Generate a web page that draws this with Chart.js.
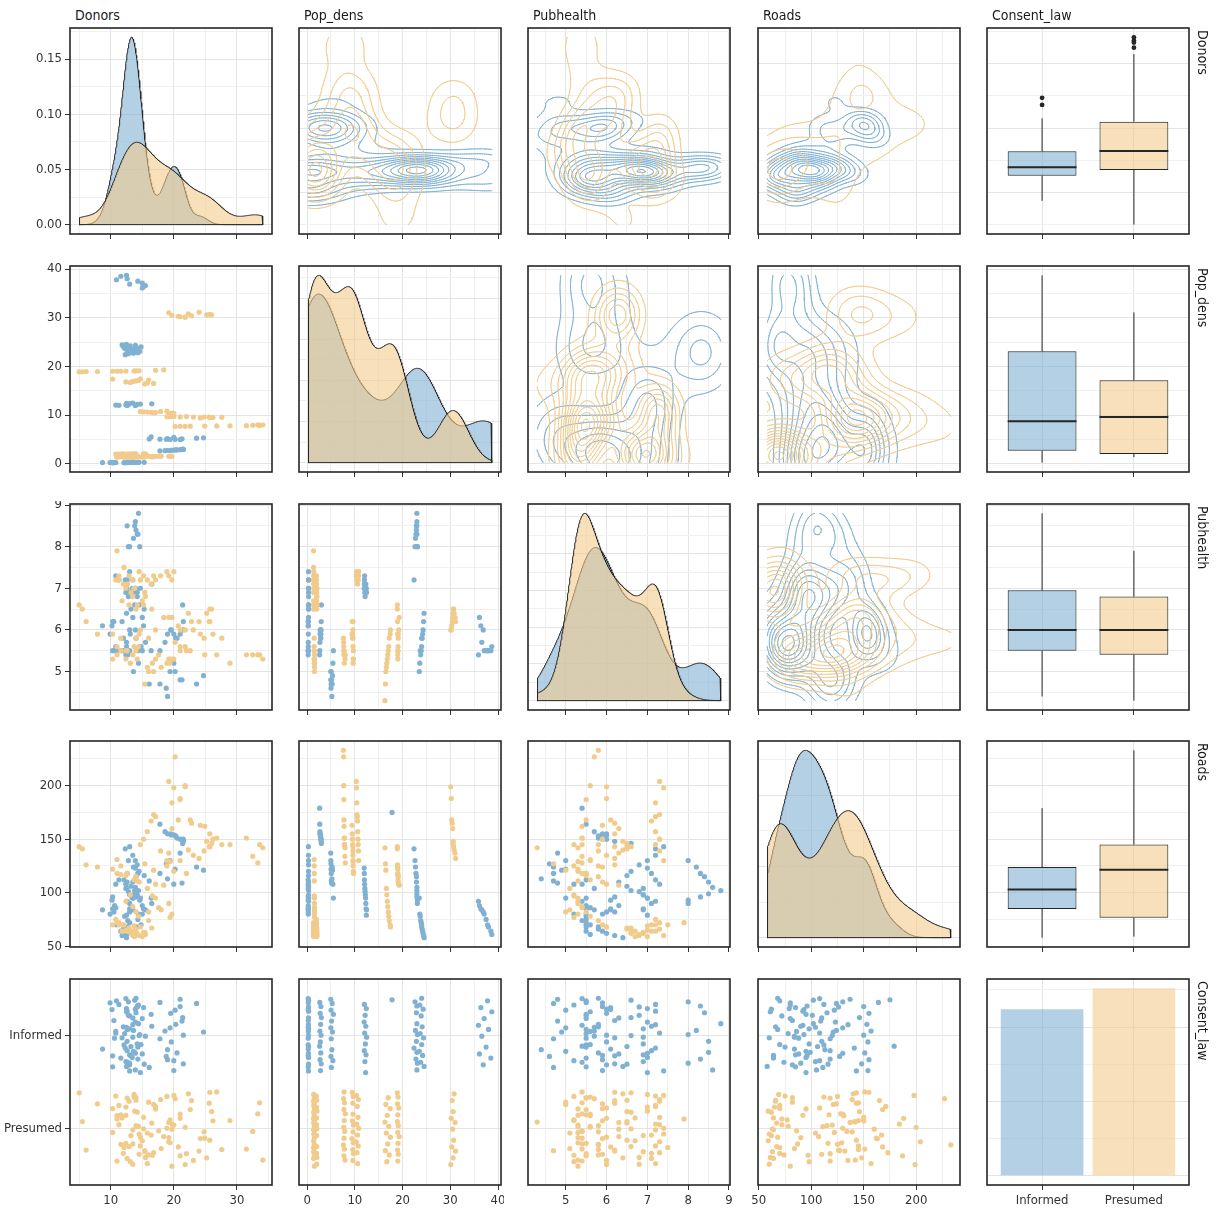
<!DOCTYPE html>
<html>
<head>
<meta charset="utf-8">
<script src="https://cdn.jsdelivr.net/npm/chart.js@4.4.1/dist/chart.umd.min.js"></script>
<style>
  body { margin: 0; background: #fff; width: 1226px; height: 1215px; position: relative; overflow: hidden;
         font-family: 'Liberation Sans Narrow', 'DejaVu Sans Condensed', sans-serif; }
  canvas { position: absolute; }
  .strip-top { position: absolute; top: 5px; font-size: 14px; line-height: 20px; color: #1a1a1a; white-space: nowrap; }
  .strip-right { position: absolute; writing-mode: vertical-rl; font-size: 14px; line-height: 20px; color: #1a1a1a; white-space: nowrap; }
</style>
</head>
<body>
<script>
// one row per year: [donors, pop_dens, pubhealth, roads]; NA = year with no record
const NA = [null, null, null, null];

// informed consent countries
const australia = [
  [12.1, 0.22, 5.5, 112], [12.4, 0.22, 5.4, 108], [12.5, 0.23, 5.7, 104], [10.3, 0.23, 6.2, 96],
  [10.2, 0.23, 6.1, 93], [10.6, 0.24, 5.5, 88], [10.3, 0.24, 5.5, 85], [10.5, 0.24, 6.2, 82],
  [8.7, 0.24, 6.1, 84], [9.9, 0.25, 5.9, 80], [10.8, 0.25, 5.6, 86], NA, NA, NA
];
const canada = [
  [13.0, 0.28, 7.4, 143], [13.5, 0.28, 7.2, 135], [13.9, 0.28, 7.0, 130], [14.2, 0.29, 6.8, 126],
  [14.5, 0.29, 6.6, 120], [15.3, 0.29, 6.5, 116], [13.5, 0.29, 6.3, 110], [13.2, 0.30, 6.5, 106],
  [13.8, 0.30, 6.6, 102], [13.0, 0.30, 6.9, 98], [13.4, 0.31, 7.0, 95], [12.6, 0.31, 7.2, 92], NA, NA
];
const denmark = [
  [13.9, 11.95, 7.0, 123], [12.6, 11.98, 7.1, 118], [11.3, 12.00, 7.2, 112], [10.8, 12.05, 7.3, 108],
  [12.4, 12.10, 6.9, 104], [12.8, 12.15, 6.8, 101], [14.2, 12.20, 6.9, 98], [14.7, 12.25, 7.0, 95],
  [16.5, 12.30, 7.1, 90], [13.0, 12.35, 6.9, 85], [12.5, 12.40, 7.0, 79], [13.5, 12.45, 6.9, 84], NA, NA
];
const germany = [
  [12.3, 22.4, 7.2, 141], [12.8, 22.6, 8.0, 130], [13.6, 22.7, 8.2, 124], [14.3, 22.8, 8.3, 118],
  [14.0, 22.9, 8.4, 115], [12.6, 22.9, 8.5, 110], [13.9, 23.0, 8.6, 105], [14.4, 23.0, 8.8, 102],
  [13.8, 23.0, 8.5, 99], [14.2, 23.0, 8.3, 96], [14.6, 23.1, 8.0, 93], [13.0, 23.1, 8.0, 90], NA, NA
];
const ireland = [
  [21.0, 4.95, 4.8, 137], [19.4, 4.97, 5.0, 130], [18.8, 5.00, 4.6, 127], [20.2, 5.02, 5.0, 122],
  [17.8, 5.05, 4.7, 118], [16.1, 5.08, 4.7, 111], [21.3, 5.12, 4.8, 109], [19.0, 5.18, 4.4, 113],
  [23.6, 5.25, 4.7, 124], [24.7, 5.32, 4.9, 121], [20.0, 5.40, 5.2, 108], [16.4, 5.50, 5.5, 95], NA, NA
];
const netherlands = [
  [null, 35.9, 5.4, 92], [15.0, 36.1, 6.3, 88], [15.2, 36.4, 6.1, 85], [15.5, 36.6, 5.7, 84],
  [13.0, 36.9, 6.0, 82], [15.0, 37.1, 5.5, 80], [14.3, 37.5, 5.5, 75], [10.9, 37.8, 5.5, 70],
  [12.6, 38.0, 5.5, 68], [11.6, 38.5, 5.5, 64], [12.5, 38.7, 5.6, 61], NA, NA, NA
];
const uk = [
  [13.6, 23.5, 5.0, 95], [14.4, 23.6, 5.2, 80], [12.2, 23.7, 5.5, 78], [12.7, 23.8, 5.4, 74],
  [13.0, 23.9, 5.5, 72], [14.8, 24.0, 5.6, 70], [14.0, 24.0, 5.8, 68], [12.0, 24.1, 5.8, 66],
  [13.1, 24.2, 5.9, 64], [13.9, 24.3, 6.0, 62], [11.8, 24.4, 6.2, 60], [12.5, 24.5, 6.4, 58], NA, NA
];
const usa = [
  [17.8, 2.65, 5.5, 164], [18.6, 2.68, 5.7, 157], [19.0, 2.71, 5.9, 155], [19.5, 2.74, 6.0, 155],
  [19.6, 2.77, 6.0, 154], [20.0, 2.80, 5.9, 154], [20.3, 2.83, 5.8, 153], [20.5, 2.86, 5.8, 151],
  [21.0, 2.89, 5.9, 150], [21.5, 2.92, 6.0, 150], [21.5, 2.95, 6.2, 148], [21.4, 2.98, 6.6, 146],
  [null, 2.62, 5.4, 179], [null, 17.8, null, 175]
];

// presumed consent countries
const austria = [
  [24.2, 9.40, 5.9, 163], [25.7, 9.45, 6.2, 155], [26.2, 9.50, 5.9, 150], [27.6, 9.55, 5.8, 145],
  [25.6, 9.60, 6.2, 143], [24.8, 9.60, 5.8, 139], [23.1, 9.60, 6.0, 135], [21.0, 9.62, 5.6, 130],
  [19.4, 9.65, 5.3, 129], [18.9, 9.65, 5.2, 125], [20.0, 9.70, 5.3, 120], [22.0, 9.70, 5.5, 118], NA, NA
];
const belgium = [
  [21.8, 30.1, 6.0, 199], [21.0, 30.2, 6.0, 188], [20.7, 30.3, 6.1, 168], [22.8, 30.4, 6.2, 165],
  [19.7, 30.5, 6.3, 160], [25.2, 30.6, 6.4, 148], [26.0, 30.6, 6.5, 146], [25.7, 30.7, 6.5, 143],
  [22.3, 30.8, 6.4, 140], [19.2, 31.0, 6.3, 137], [24.0, 31.1, 6.2, 132], NA, NA, NA
];
const finland = [
  [11.0, 1.48, 5.6, 131], [11.6, 1.49, 5.8, 125], [12.6, 1.50, 5.5, 118], [14.2, 1.50, 5.3, 111],
  [16.6, 1.51, 5.2, 97], [17.1, 1.52, 5.3, 95], [19.2, 1.52, 5.3, 90], [19.7, 1.53, 5.3, 80],
  [19.4, 1.54, 5.2, 77], [18.0, 1.54, 5.1, 84], [16.0, 1.55, 5.0, 82], [17.6, 1.56, 5.4, 86], NA, NA
];
const france = [
  [19.2, 10.30, 7.3, 204], [20.0, 10.35, 7.4, 198], [19.7, 10.40, 7.2, 184], [16.8, 10.45, 7.3, 173],
  [17.1, 10.50, 7.2, 171], [16.4, 10.55, 7.1, 167], [15.8, 10.60, 7.2, 157], [15.2, 10.65, 7.3, 150],
  [14.7, 10.70, 7.2, 145], [17.9, 10.75, 7.3, 139], [18.9, 10.80, 7.4, 130], NA, NA, NA
];
const italy = [
  [5.0, 18.90, 6.6, 143], [5.5, 18.90, 6.5, 141], [6.1, 18.95, 6.2, 126], [7.9, 18.95, 5.9, 124],
  [10.3, 19.00, 5.3, 122], [11.0, 19.00, 5.4, 118], [11.6, 19.00, 5.5, 117], [12.4, 19.05, 5.5, 116],
  [13.7, 19.05, 5.6, 112], [14.0, 19.10, 5.8, 115], [14.5, 19.10, 5.9, 110], [17.1, 19.20, 6.0, 108],
  [18.4, 19.30, 6.3, 107], NA
];
const norway = [
  [11.0, 1.34, 7.9, 72], [12.1, 1.34, 7.5, 70], [12.9, 1.35, 7.3, 66], [13.5, 1.35, 7.2, 64],
  [12.6, 1.36, 7.1, 64], [14.2, 1.36, 6.6, 62], [15.0, 1.37, 6.7, 59], [13.7, 1.37, 7.0, 69],
  [16.5, 1.38, 6.5, 67], [15.4, 1.38, 6.9, 63], [11.3, 1.39, 7.2, 70], [14.5, 1.40, 7.4, 60], NA, NA
];
const spain = [
  [null, 7.60, 5.8, 233], [20.2, 7.65, 5.7, 227], [21.8, 7.68, 5.6, 200], [21.0, 7.70, 5.5, 187],
  [22.6, 7.72, 5.5, 168], [24.9, 7.74, 5.4, 162], [26.8, 7.76, 5.4, 151], [28.9, 7.78, 5.2, 145],
  [31.5, 7.82, 5.4, 151], [33.6, 7.86, 5.4, 145], [32.5, 7.90, 5.4, 134], [34.1, 7.95, 5.3, 142],
  [33.3, 8.00, 5.4, 128], NA
];
const sweden = [
  [10.8, 1.95, 7.2, 75], [11.3, 1.96, 7.3, 72], [12.0, 1.97, 7.1, 70], [12.4, 1.98, 7.0, 65],
  [13.2, 1.99, 6.9, 62], [13.5, 2.00, 6.8, 60], [11.8, 2.00, 6.7, 64], [12.9, 2.01, 6.6, 67],
  [14.0, 2.02, 6.5, 66], [15.2, 2.03, 6.6, 63], [15.5, 2.04, 6.8, 61], [13.8, 2.05, 7.0, 59], NA, NA
];
const switzerland = [
  [null, 16.3, 4.3, 142], [15.4, 16.4, 4.7, 127], [16.8, 16.5, 5.0, 121], [15.8, 16.6, 5.1, 104],
  [13.1, 16.7, 5.2, 98], [12.4, 16.8, 5.3, 92], [13.5, 16.9, 5.4, 87], [14.0, 17.0, 5.5, 82],
  [14.4, 17.1, 5.6, 78], [16.0, 17.2, 5.8, 74], [10.3, 17.4, 5.9, 70], [14.7, 17.45, 6.0, 68], NA, NA
];

const informed = [australia, canada, denmark, germany, ireland, netherlands, uk, usa];
const presumed = [austria, belgium, finland, france, italy, norway, spain, sweden, switzerland];

const varNames = ['Donors', 'Pop_dens', 'Pubhealth', 'Roads', 'Consent_law'];
const consentLevels = ['Informed', 'Presumed'];
const donorBreaks = [10, 20, 30];
const popBreaks = [0, 10, 20, 30, 40];
const pubBreaks = [5, 6, 7, 8, 9];
const roadBreaks = [50, 100, 150, 200];
const donorDensityBreaks = [0, 0.05, 0.10, 0.15];
const countBreaks = [0, 50, 100];

// ---- styling ----
const FONT = "'Liberation Sans Narrow', 'DejaVu Sans Condensed', sans-serif";
const BLUE = 'rgb(128,177,211)';
const YELLOW = 'rgb(241,203,140)';
const BLUE_FILL = 'rgba(128,177,211,0.6)';
const YELLOW_FILL = 'rgba(241,203,140,0.6)';
const INK = '#262626';
const GRID_MAJOR = '#e4e4e4';
const GRID_MINOR = '#f0f0f0';

const COL_X = [70, 299, 528, 758, 987];
const ROW_Y = [28, 266, 504, 741, 979];
const PW = 202, PH = 206;
const PAD_L = 70, PAD_T = 3, PAD_R = 3, PAD_B = 32;

Chart.defaults.font.family = FONT;
Chart.defaults.color = '#333';

const groups = [
  { rows: informed.flat(), color: BLUE, fill: BLUE_FILL },
  { rows: presumed.flat(), color: YELLOW, fill: YELLOW_FILL }
];
const breaks = [donorBreaks, popBreaks, pubBreaks, roadBreaks];
const allRows = groups.flatMap(g => g.rows);
const dims = [0, 1, 2, 3].map(v => {
  const a = allRows.map(r => r[v]).filter(x => x != null);
  return [Math.min(...a), Math.max(...a)];
});
const expand = ([a, b]) => [a - 0.05 * (b - a), b + 0.05 * (b - a)];
const lims = dims.map(expand);

// ---- stats helpers ----
function quantile7(s, p) {
  const h = (s.length - 1) * p, lo = Math.floor(h), hi = Math.min(lo + 1, s.length - 1);
  return s[lo] + (h - lo) * (s[hi] - s[lo]);
}
function spread(vals) {
  const s = [...vals].sort((a, b) => a - b), n = s.length;
  const mean = s.reduce((a, b) => a + b, 0) / n;
  const sd = Math.sqrt(s.reduce((a, b) => a + (b - mean) ** 2, 0) / (n - 1));
  return { n, sd, iqr: quantile7(s, 0.75) - quantile7(s, 0.25), s };
}
function bwNrd0(vals) {
  const { n, sd, iqr } = spread(vals);
  let lo = Math.min(sd, iqr / 1.34);
  if (!lo) lo = sd || 1;
  return 0.9 * lo * Math.pow(n, -0.2);
}
function bwNrd(vals) {
  const { n, sd, iqr } = spread(vals);
  return 4 * 1.06 * Math.min(sd, iqr / 1.34) * Math.pow(n, -0.2);
}
const dnorm = u => Math.exp(-0.5 * u * u) / Math.sqrt(2 * Math.PI);
const seq = (lo, hi, n) => Array.from({ length: n }, (_, i) => lo + (hi - lo) * i / (n - 1));

function pretty(lo, hi, n) {
  const cell = (hi - lo) / n;
  const U = Math.pow(10, Math.floor(Math.log10(cell)));
  let unit = U;
  if (2 * U - cell < 1.5 * (cell - unit)) {
    unit = 2 * U;
    if (5 * U - cell < 2.75 * (cell - unit)) {
      unit = 5 * U;
      if (10 * U - cell < 1.5 * (cell - unit)) unit = 10 * U;
    }
  }
  const out = [];
  for (let k = Math.floor(lo / unit); k <= Math.ceil(hi / unit); k++) out.push(+(k * unit).toFixed(12));
  return out;
}

function colValues(g, v) { return g.rows.map(r => r[v]).filter(x => x != null); }
function pairs(g, vx, vy) {
  return g.rows.filter(r => r[vx] != null && r[vy] != null).map(r => ({ x: r[vx], y: r[vy] }));
}

function kde2d(pts, xr, yr, n) {
  const xs = pts.map(p => p.x), ys = pts.map(p => p.y), m = pts.length;
  const hx = bwNrd(xs) / 4, hy = bwNrd(ys) / 4;
  const gx = seq(xr[0], xr[1], n), gy = seq(yr[0], yr[1], n);
  const ax = gx.map(g => xs.map(x => dnorm((g - x) / hx)));
  const ay = gy.map(g => ys.map(y => dnorm((g - y) / hy)));
  const z = gx.map((_, i) => gy.map((_, j) => {
    let s = 0;
    for (let k = 0; k < m; k++) s += ax[i][k] * ay[j][k];
    return s / (m * hx * hy);
  }));
  return { gx, gy, z };
}

const GAP = { x: NaN, y: NaN };
const CASES = { 1: ['LB'], 2: ['BR'], 3: ['LR'], 4: ['RT'], 5: ['LB', 'RT'], 6: ['BT'], 7: ['LT'],
  8: ['TL'], 9: ['BT'], 10: ['BR', 'TL'], 11: ['RT'], 12: ['RL'], 13: ['BR'], 14: ['BL'] };
function isolines(k, level, out) {
  const { gx, gy, z } = k;
  for (let i = 0; i < gx.length - 1; i++) for (let j = 0; j < gy.length - 1; j++) {
    const a = z[i][j], b = z[i + 1][j], c = z[i + 1][j + 1], d = z[i][j + 1];
    const idx = (a >= level ? 1 : 0) | (b >= level ? 2 : 0) | (c >= level ? 4 : 0) | (d >= level ? 8 : 0);
    if (idx === 0 || idx === 15) continue;
    const x0 = gx[i], x1 = gx[i + 1], y0 = gy[j], y1 = gy[j + 1];
    const at = (px, py, pz, qx, qy, qz) => {
      const t = (level - pz) / (qz - pz);
      return { x: px + t * (qx - px), y: py + t * (qy - py) };
    };
    const e = {
      B: () => at(x0, y0, a, x1, y0, b),
      R: () => at(x1, y0, b, x1, y1, c),
      T: () => at(x0, y1, d, x1, y1, c),
      L: () => at(x0, y0, a, x0, y1, d)
    };
    for (const pr of CASES[idx]) out.push(e[pr[0]](), e[pr[1]](), GAP);
  }
}

function boxStats(vals) {
  const s = [...vals].sort((a, b) => a - b);
  const q1 = quantile7(s, 0.25), med = quantile7(s, 0.5), q3 = quantile7(s, 0.75), iqr = q3 - q1;
  const inside = s.filter(v => v >= q1 - 1.5 * iqr && v <= q3 + 1.5 * iqr);
  return { q1, med, q3, lo: inside[0], hi: inside[inside.length - 1],
    out: s.filter(v => v < q1 - 1.5 * iqr || v > q3 + 1.5 * iqr) };
}

// ---- axes ----
function buildTicks(lim, majors) {
  const inRange = v => v >= lim[0] - 1e-9 && v <= lim[1] + 1e-9;
  const out = majors.filter(inRange).map(v => ({ value: v, major: true }));
  if (majors.length > 1) {
    const step = majors[1] - majors[0];
    for (let k = -1; k < majors.length; k++) {
      const v = +(majors[0] + step * (k + 0.5)).toFixed(10);
      if (inRange(v)) out.push({ value: v, major: false });
    }
  }
  return out.sort((a, b) => a.value - b.value);
}

function axisOpts(axis, lim, ticks, labelled, ticksOn, fmt) {
  return {
    type: 'linear', position: axis === 'x' ? 'bottom' : 'left',
    min: lim[0], max: lim[1], bounds: 'data', offset: false, grace: 0,
    afterBuildTicks: s => { s.ticks = ticks.map(t => ({ value: t.value, major: t.major })); },
    afterFit: s => {
      if (axis === 'x') { s.height = PAD_B; s.paddingLeft = 0; s.paddingRight = 0; }
      else { s.width = PAD_L; s.paddingTop = 0; s.paddingBottom = 0; }
    },
    border: { display: false },
    grid: {
      offset: false, drawTicks: true, tickLength: 5, lineWidth: 1, tickWidth: 1,
      color: ctx => (ctx.tick && ctx.tick.major) ? GRID_MAJOR : GRID_MINOR,
      tickColor: ctx => (ticksOn && ctx.tick && ctx.tick.major) ? '#333' : 'rgba(0,0,0,0)'
    },
    ticks: {
      autoSkip: false, maxRotation: 0, minRotation: 0, padding: 3, color: '#333', font: { size: 13 },
      callback: (val, i) => (labelled && ticks[i] && ticks[i].major) ? fmt(ticks[i].value) : ''
    }
  };
}
const numericAxis = (axis, v, labelled, ticksOn) =>
  axisOpts(axis, lims[v], buildTicks(lims[v], breaks[v]), labelled, ticksOn, x => String(x));
const consentAxis = (axis, labelled, ticksOn) =>
  axisOpts(axis, [0.4, 2.6], [{ value: 1, major: true }, { value: 2, major: true }], labelled, ticksOn,
    x => axis === 'x' ? consentLevels[x - 1] : consentLevels[2 - x]);

const panelBorder = {
  id: 'panelBorder',
  afterDraw(chart) {
    const a = chart.chartArea, ctx = chart.ctx;
    ctx.save();
    ctx.strokeStyle = INK;
    ctx.lineWidth = 1.6;
    ctx.strokeRect(a.left, a.top, a.right - a.left, a.bottom - a.top);
    ctx.restore();
  }
};

function line(data, color, width, order, extra) {
  return Object.assign({ type: 'line', data, borderColor: color, borderWidth: width, pointRadius: 0,
    pointHoverRadius: 0, spanGaps: false, fill: false, tension: 0, borderCapStyle: 'round',
    borderJoinStyle: 'round', order }, extra || {});
}
function dots(data, color, order, r) {
  return { type: 'scatter', data, backgroundColor: color, borderWidth: 0, pointRadius: r || 2.6,
    pointHoverRadius: r || 2.6, order };
}

// ---- panels ----
for (let r = 0; r < 5; r++) {
  for (let c = 0; c < 5; c++) {
    let type = 'scatter', datasets = [], yAxis;
    const xAxis = c < 4 ? numericAxis('x', c, r === 4, true) : consentAxis('x', r === 4, true);

    if (r < 4 && r === c) {
      // diagonal: group densities
      const grid = seq(dims[r][0], dims[r][1], 512);
      let top = 0;
      groups.forEach((g, gi) => {
        const vals = colValues(g, r), bw = bwNrd0(vals);
        const dens = grid.map(x => vals.reduce((s, v) => s + dnorm((x - v) / bw), 0) / (vals.length * bw));
        top = Math.max(top, ...dens);
        const pts = [{ x: grid[0], y: 0 }, ...grid.map((x, i) => ({ x, y: dens[i] })), { x: grid[511], y: 0 }];
        datasets.push(line(pts, INK, 1, 2 - gi, { fill: 'origin', backgroundColor: g.fill, borderCapStyle: 'butt' }));
      });
      datasets.push(line([{ x: dims[r][0], y: 0 }, { x: dims[r][1], y: 0 }], INK, 1, 0));
      const lim = [-0.05 * top, 1.05 * top];
      const maj = r === 0 ? donorDensityBreaks : pretty(lim[0], lim[1], 5);
      yAxis = axisOpts('y', lim, buildTicks(lim, maj), c === 0, c === 0, x => x.toFixed(2));
    } else if (r < 4 && c === 4) {
      // box plots by consent law
      type = 'bar';
      const st = groups.map(g => boxStats(colValues(g, r)));
      datasets.push({ type: 'bar', data: st.map((s, gi) => ({ x: gi + 1, y: [s.q1, s.q3] })),
        backgroundColor: groups.map(g => g.fill), borderColor: INK, borderWidth: 1, borderSkipped: false,
        barPercentage: 0.75, categoryPercentage: 1, order: 5 });
      const whisk = [], meds = [], outs = [];
      st.forEach((s, gi) => {
        const x = gi + 1;
        whisk.push({ x, y: s.lo }, { x, y: s.q1 }, GAP, { x, y: s.q3 }, { x, y: s.hi }, GAP);
        meds.push({ x: x - 0.375, y: s.med }, { x: x + 0.375, y: s.med }, GAP);
        s.out.forEach(v => outs.push({ x, y: v }));
      });
      datasets.push(line(whisk, INK, 1, 4, { borderCapStyle: 'butt' }));
      datasets.push(line(meds, INK, 2, 3, { borderCapStyle: 'butt' }));
      datasets.push(dots(outs, INK, 2, 2.4));
      yAxis = numericAxis('y', r, false, false);
    } else if (r === 4 && c === 4) {
      // counts per consent law
      type = 'bar';
      const counts = groups.map(g => g.rows.length);
      datasets.push({ type: 'bar', data: counts.map((n, gi) => ({ x: gi + 1, y: n })),
        backgroundColor: groups.map(g => g.fill), borderWidth: 0, barPercentage: 0.9, categoryPercentage: 1 });
      const top = Math.max(...counts), lim = [-0.05 * top, 1.05 * top];
      yAxis = axisOpts('y', lim, buildTicks(lim, countBreaks), false, false, String);
    } else if (r === 4) {
      // jittered strips by consent law
      groups.forEach((g, gi) => {
        const pts = [];
        g.rows.forEach((row, k) => {
          if (row[c] == null) return;
          const jit = (((k * 0.6180339887 + 0.37) % 1) - 0.5) * 0.8;
          pts.push({ x: row[c], y: 2 - gi + jit });
        });
        datasets.push(dots(pts, g.color, 2 - gi));
      });
      yAxis = consentAxis('y', c === 0, c === 0);
    } else if (r > c) {
      // lower triangle: scatter
      groups.forEach((g, gi) => datasets.push(dots(pairs(g, c, r), g.color, 2 - gi)));
      yAxis = numericAxis('y', r, c === 0, c === 0);
    } else {
      // upper triangle: 2d density contours
      const ks = groups.map(g => kde2d(pairs(g, c, r), dims[c], dims[r], 100));
      let zmin = Infinity, zmax = -Infinity;
      ks.forEach(k => k.z.forEach(col => col.forEach(v => { zmin = Math.min(zmin, v); zmax = Math.max(zmax, v); })));
      const levels = pretty(zmin, zmax, 10).filter(l => l > zmin && l < zmax);
      ks.forEach((k, gi) => {
        const segs = [];
        levels.forEach(l => isolines(k, l, segs));
        datasets.push(line(segs, groups[gi].color, 1, 2 - gi));
      });
      yAxis = numericAxis('y', r, false, false);
    }

    const cv = document.createElement('canvas');
    cv.width = PW + PAD_L + PAD_R;
    cv.height = PH + PAD_T + PAD_B;
    cv.style.left = (COL_X[c] - PAD_L) + 'px';
    cv.style.top = (ROW_Y[r] - PAD_T) + 'px';
    document.body.appendChild(cv);

    new Chart(cv, {
      type,
      data: { datasets },
      options: {
        responsive: false, animation: false, devicePixelRatio: 1, events: [],
        layout: { padding: { top: PAD_T, right: PAD_R, left: 0, bottom: 0 } },
        plugins: { legend: { display: false }, tooltip: { enabled: false } },
        scales: { x: xAxis, y: yAxis }
      },
      plugins: [panelBorder]
    });
  }
}

// ---- strip labels ----
varNames.forEach((name, i) => {
  const t = document.createElement('div');
  t.className = 'strip-top';
  t.style.left = (COL_X[i] + 5) + 'px';
  t.textContent = name;
  document.body.appendChild(t);
  const s = document.createElement('div');
  s.className = 'strip-right';
  s.style.left = '1193px';
  s.style.top = (ROW_Y[i] + 2) + 'px';
  s.textContent = name;
  document.body.appendChild(s);
});
</script>
</body>
</html>
